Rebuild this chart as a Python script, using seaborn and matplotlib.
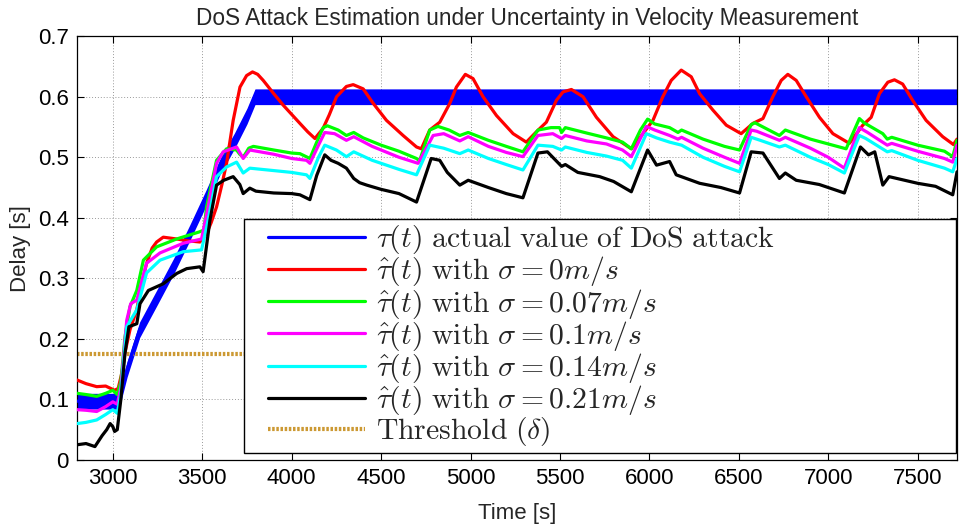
import numpy as np
import pandas as pd
import matplotlib
matplotlib.use("Agg")
import matplotlib.pyplot as plt
import seaborn as sns
from matplotlib.legend_handler import HandlerLine2D

# ---------------- data ----------------
tau_x = [2800, 3030, 3050, 3080, 3150, 3250, 3340, 3430, 3520, 3600, 3680, 3750, 3795, 7720]
tau_y = [0.097, 0.097, 0.115, 0.150, 0.215, 0.270, 0.320, 0.375, 0.432, 0.485, 0.527, 0.568, 0.600, 0.600]
tau_halfband = 0.013

red_x = [2800, 2850, 2910, 2960, 3010, 3030, 3050, 3070, 3096, 3134, 3160, 3189, 3220, 3245, 3282, 3357, 3420,
         3487, 3524, 3550, 3580, 3610, 3636, 3673, 3711, 3748, 3781, 3810, 3841, 3900, 3953, 4046, 4090, 4130,
         4176, 4210, 4251, 4306, 4344, 4400, 4456, 4530, 4623, 4698, 4725, 4772, 4828, 4884, 4921, 4971, 5014,
         5070, 5145, 5238, 5312, 5368, 5424, 5480, 5517, 5564, 5629, 5704, 5797, 5899, 5964, 6020, 6075, 6122,
         6178, 6234, 6281, 6355, 6430, 6513, 6579, 6635, 6690, 6737, 6774, 6821, 6877, 6951, 7026, 7118, 7193,
         7240, 7286, 7333, 7370, 7416, 7472, 7547, 7640, 7700, 7720]
red_y = [0.132, 0.126, 0.121, 0.122, 0.115, 0.118, 0.143, 0.180, 0.215, 0.248, 0.290, 0.325, 0.350, 0.360, 0.368,
         0.365, 0.362, 0.360, 0.374, 0.392, 0.418, 0.455, 0.490, 0.561, 0.616, 0.635, 0.641, 0.637, 0.627, 0.605,
         0.586, 0.556, 0.542, 0.531, 0.548, 0.570, 0.600, 0.617, 0.620, 0.613, 0.589, 0.561, 0.536, 0.517, 0.514,
         0.545, 0.558, 0.589, 0.616, 0.637, 0.630, 0.600, 0.569, 0.539, 0.525, 0.542, 0.558, 0.594, 0.608, 0.612,
         0.600, 0.566, 0.534, 0.514, 0.539, 0.561, 0.600, 0.627, 0.644, 0.633, 0.605, 0.578, 0.553, 0.539, 0.556,
         0.564, 0.600, 0.627, 0.637, 0.627, 0.600, 0.566, 0.539, 0.523, 0.553, 0.566, 0.605, 0.624, 0.628, 0.621,
         0.594, 0.561, 0.534, 0.521, 0.530]

green_x = [2800, 2850, 2910, 2960, 3000, 3025, 3045, 3068, 3096, 3134, 3171, 3245, 3357, 3487, 3510, 3524, 3580,
           3636, 3692, 3710, 3729, 3760, 3786, 3900, 4000, 4046, 4102, 4140, 4176, 4200, 4260, 4306, 4347, 4400,
           4500, 4600, 4698, 4715, 4772, 4818, 4880, 4940, 4987, 5100, 5200, 5293, 5377, 5450, 5498, 5509, 5530,
           5650, 5760, 5850, 5899, 5950, 5990, 6030, 6113, 6160, 6180, 6300, 6420, 6504, 6569, 6590, 6727, 6760,
           6900, 7000, 7100, 7174, 7200, 7305, 7330, 7355, 7500, 7650, 7696, 7720]
green_y = [0.110, 0.108, 0.105, 0.110, 0.115, 0.108, 0.130, 0.203, 0.253, 0.280, 0.330, 0.352, 0.365, 0.377, 0.380,
           0.418, 0.495, 0.514, 0.512, 0.505, 0.500, 0.515, 0.518, 0.512, 0.507, 0.506, 0.498, 0.525, 0.549, 0.552,
           0.545, 0.536, 0.541, 0.532, 0.520, 0.510, 0.498, 0.494, 0.545, 0.551, 0.545, 0.536, 0.541, 0.528, 0.518,
           0.509, 0.545, 0.549, 0.549, 0.541, 0.549, 0.540, 0.532, 0.525, 0.514, 0.545, 0.563, 0.555, 0.549, 0.541,
           0.545, 0.530, 0.518, 0.512, 0.554, 0.557, 0.536, 0.545, 0.530, 0.522, 0.514, 0.564, 0.557, 0.539, 0.530,
           0.533, 0.520, 0.510, 0.501, 0.528]

magenta_x = [2800, 2850, 2910, 2960, 3000, 3025, 3045, 3078, 3100, 3134, 3189, 3264, 3394, 3496, 3533, 3580, 3617,
             3692, 3729, 3766, 3900, 4000, 4083, 4102, 4150, 4185, 4240, 4306, 4347, 4450, 4600, 4707, 4791, 4850,
             4940, 4987, 5100, 5200, 5293, 5377, 5460, 5509, 5530, 5650, 5760, 5850, 5899, 5983, 6030, 6113, 6160,
             6180, 6300, 6420, 6504, 6569, 6600, 6727, 6760, 6900, 7000, 7090, 7174, 7220, 7330, 7355, 7500, 7650,
             7696, 7720]
magenta_y = [0.083, 0.082, 0.080, 0.088, 0.096, 0.092, 0.120, 0.231, 0.258, 0.264, 0.325, 0.342, 0.358, 0.365, 0.418,
             0.490, 0.509, 0.517, 0.498, 0.512, 0.505, 0.498, 0.495, 0.490, 0.520, 0.541, 0.539, 0.528, 0.534, 0.518,
             0.500, 0.490, 0.536, 0.539, 0.527, 0.534, 0.518, 0.508, 0.501, 0.536, 0.539, 0.531, 0.536, 0.527, 0.522,
             0.512, 0.501, 0.551, 0.545, 0.536, 0.530, 0.533, 0.515, 0.500, 0.490, 0.545, 0.543, 0.528, 0.533, 0.515,
             0.500, 0.482, 0.549, 0.541, 0.520, 0.523, 0.510, 0.498, 0.492, 0.520]

cyan_x = [2800, 2850, 2910, 2960, 3000, 3025, 3045, 3078, 3134, 3189, 3264, 3394, 3496, 3533, 3580, 3636, 3692,
          3729, 3766, 3900, 4000, 4083, 4102, 4150, 4185, 4250, 4306, 4347, 4450, 4600, 4698, 4772, 4850, 4940,
          4987, 5100, 5200, 5293, 5377, 5460, 5509, 5530, 5650, 5760, 5850, 5899, 5983, 6040, 6113, 6180, 6300,
          6420, 6504, 6569, 6620, 6727, 6760, 6900, 7000, 7090, 7174, 7210, 7330, 7355, 7500, 7650, 7696, 7720]
cyan_y = [0.060, 0.062, 0.066, 0.075, 0.083, 0.077, 0.110, 0.220, 0.248, 0.309, 0.330, 0.344, 0.347, 0.396, 0.468,
          0.484, 0.492, 0.474, 0.482, 0.478, 0.475, 0.471, 0.465, 0.500, 0.520, 0.512, 0.501, 0.509, 0.495, 0.480,
          0.471, 0.520, 0.515, 0.506, 0.512, 0.498, 0.488, 0.479, 0.520, 0.518, 0.512, 0.517, 0.508, 0.502, 0.495,
          0.482, 0.539, 0.532, 0.525, 0.520, 0.500, 0.485, 0.476, 0.533, 0.528, 0.517, 0.520, 0.500, 0.488, 0.474,
          0.536, 0.531, 0.509, 0.511, 0.495, 0.482, 0.476, 0.498]

black_x = [2800, 2850, 2880, 2900, 2940, 2966, 2985, 3000, 3010, 3025, 3045, 3068, 3090, 3134, 3152, 3199, 3282,
           3357, 3413, 3487, 3505, 3543, 3580, 3620, 3673, 3710, 3729, 3766, 3800, 3900, 4000, 4046, 4102, 4140,
           4185, 4220, 4260, 4306, 4347, 4380, 4420, 4500, 4600, 4698, 4780, 4828, 4870, 4940, 4987, 5100, 5200,
           5293, 5377, 5430, 5509, 5530, 5600, 5722, 5800, 5899, 5990, 6040, 6113, 6150, 6281, 6400, 6504, 6569,
           6635, 6727, 6760, 6821, 6950, 7090, 7180, 7225, 7260, 7305, 7340, 7500, 7600, 7696, 7720]
black_y = [0.025, 0.027, 0.024, 0.022, 0.040, 0.050, 0.060, 0.055, 0.047, 0.050, 0.100, 0.176, 0.220, 0.225, 0.258,
           0.280, 0.291, 0.308, 0.316, 0.319, 0.311, 0.396, 0.454, 0.462, 0.468, 0.455, 0.440, 0.449, 0.444, 0.441,
           0.440, 0.438, 0.430, 0.470, 0.504, 0.495, 0.490, 0.482, 0.465, 0.458, 0.454, 0.447, 0.440, 0.426, 0.498,
           0.495, 0.475, 0.454, 0.462, 0.450, 0.440, 0.433, 0.507, 0.509, 0.485, 0.488, 0.475, 0.468, 0.460, 0.443,
           0.512, 0.487, 0.493, 0.471, 0.457, 0.450, 0.441, 0.509, 0.507, 0.465, 0.474, 0.462, 0.455, 0.441, 0.517,
           0.504, 0.509, 0.454, 0.468, 0.457, 0.452, 0.438, 0.476]

threshold = 0.175

labels = [r"$\tau(t)\ \mathrm{actual\ value\ of\ DoS\ attack}$",
          r"$\hat{\tau}(t)\ \mathrm{with}\ \sigma = 0m/s$",
          r"$\hat{\tau}(t)\ \mathrm{with}\ \sigma = 0.07m/s$",
          r"$\hat{\tau}(t)\ \mathrm{with}\ \sigma = 0.1m/s$",
          r"$\hat{\tau}(t)\ \mathrm{with}\ \sigma = 0.14m/s$",
          r"$\hat{\tau}(t)\ \mathrm{with}\ \sigma = 0.21m/s$",
          r"$\mathrm{Threshold}\ (\delta)$"]
colors = ["#0000FF", "#FF0000", "#00FF00", "#FF00FF", "#00FFFF", "#000000", "#CC9933"]

xticks = [3000, 3500, 4000, 4500, 5000, 5500, 6000, 6500, 7000, 7500]
yticks = [0, 0.1, 0.2, 0.3, 0.4, 0.5, 0.6, 0.7]
yticklabels = ["0", "0.1", "0.2", "0.3", "0.4", "0.5", "0.6", "0.7"]
xlim = (2800, 7720)
ylim = (0, 0.7)

title = "DoS Attack Estimation under Uncertainty in Velocity Measurement"
xlabel = "Time [s]"
ylabel = "Delay [s]"

# ---------------- style ----------------
sns.set_theme(style="white")
plt.rcParams["font.family"] = ["Liberation Sans", "DejaVu Sans"]
plt.rcParams["mathtext.fontset"] = "cm"

fig, ax = plt.subplots(figsize=(9.63, 5.25), dpi=100)
fig.subplots_adjust(left=0.080, right=0.9938, bottom=0.124, top=0.931)

lw = 2.3
tx = np.array(tau_x)
ty = np.array(tau_y)
ax.fill_between(tx, ty - tau_halfband, ty + tau_halfband, color=colors[0], lw=0, zorder=2)

series = [(tau_x, tau_y), (red_x, red_y), (green_x, green_y), (magenta_x, magenta_y),
          (cyan_x, cyan_y), (black_x, black_y)]
for i, (xs, ys) in enumerate(series):
    sns.lineplot(x=xs, y=ys, ax=ax, color=colors[i], lw=lw, label=labels[i], zorder=3 + i)

ax.axhline(threshold, color=colors[6], lw=3.0, linestyle=(0, (0.6, 0.4)), label=labels[6], zorder=2)

ax.set_xlim(*xlim)
ax.set_ylim(*ylim)
ax.set_xticks(xticks)
ax.set_xticklabels([str(t) for t in xticks])
ax.set_yticks(yticks)
ax.set_yticklabels(yticklabels)
ax.tick_params(direction="in", length=5, width=0.8, top=True, right=True, labelsize=16,
               colors="black", pad=6, bottom=True, left=True)
ax.grid(True, color="#9a9a9a", linestyle=(0, (1, 2)), lw=0.7)
for s in ax.spines.values():
    s.set_color("black")
    s.set_linewidth(0.9)

ax.set_title(title, fontsize=16.3, pad=8, x=0.511)
ax.set_xlabel(xlabel, fontsize=16, labelpad=10)
ax.set_ylabel(ylabel, fontsize=16, labelpad=5)


class InsetLineHandler(HandlerLine2D):
    """Legend line that leaves a small blank margin on its left side."""
    def __init__(self, inset_px=14, **kw):
        super().__init__(**kw)
        self.inset_px = inset_px

    def get_xdata(self, legend, xdescent, ydescent, width, height, fontsize):
        xdata = np.array([-xdescent + self.inset_px, -xdescent + width], float)
        return xdata, xdata


handles, labs = ax.get_legend_handles_labels()
leg = ax.legend(handles, labs, loc="lower left",
                bbox_to_anchor=(0.190, 0.0165, 0.809, 0.547), mode="expand",
                borderaxespad=0, fontsize=21.4,
                frameon=True, fancybox=False, framealpha=1, edgecolor="black",
                handlelength=3.9, handletextpad=0.37, labelspacing=-0.06, borderpad=0.15,
                handler_map={h: InsetLineHandler() for h in handles})
leg.get_frame().set_linewidth(1.0)
leg.set_zorder(20)

fig.savefig("out.png", dpi=100)
